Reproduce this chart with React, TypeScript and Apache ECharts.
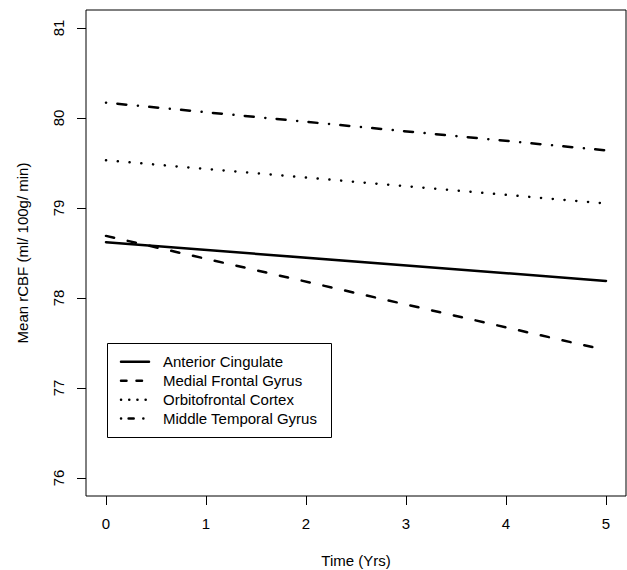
import React, { useEffect, useRef } from "react";
import * as echarts from "echarts";

const years = [0, 5];
const seriesNames = [
  "Anterior Cingulate",
  "Medial Frontal Gyrus",
  "Orbitofrontal Cortex",
  "Middle Temporal Gyrus",
];
const anteriorCingulate = [78.62, 78.19];
const medialFrontalGyrus = [78.69, 77.42];
const orbitofrontalCortex = [79.53, 79.05];
const middleTemporalGyrus = [80.17, 79.64];
const xTicks = [0, 1, 2, 3, 4, 5];
const yTicks = [76, 77, 78, 79, 80, 81];

const FONT = "'Liberation Sans', Arial, Helvetica, sans-serif";

export default function App() {
  const ref = useRef<HTMLDivElement>(null);
  useEffect(() => {
    if (!ref.current) return;
    const chart = echarts.init(ref.current, undefined, { renderer: "svg" });
    const values = [anteriorCingulate, medialFrontalGyrus, orbitofrontalCortex, middleTemporalGyrus];
    const plotDash: any[] = ["solid", [8.3, 14], [0.1, 11.7], [0.1, 11.3, 9, 11.6]];
    const legendDash: any[] = [null, [5.5, 10], [0.1, 8.1], [0.1, 7.5, 5.1, 9.6]];
    const legendEnds = [[121, 149], [121, 149], [121, 146], [121, 144]];
    const rowY = [361.7, 380.7, 399.7, 418.5];

    const legendEls: any[] = [
      {
        type: "rect",
        shape: { x: 107.5, y: 343.5, width: 224, height: 94 },
        style: { fill: "#fff", stroke: "#000", lineWidth: 1 },
        z: 100,
      },
    ];
    seriesNames.forEach((n, i) => {
      legendEls.push({
        type: "line",
        shape: { x1: legendEnds[i][0], y1: rowY[i], x2: legendEnds[i][1], y2: rowY[i] },
        style: {
          stroke: "#000",
          lineWidth: 2.5,
          lineCap: "round",
          lineDash: legendDash[i] || undefined,
        },
        z: 101,
      });
      legendEls.push({
        type: "text",
        x: 163,
        y: rowY[i],
        style: {
          text: n,
          fill: "#000",
          font: `15px ${FONT}`,
          textVerticalAlign: "middle",
          verticalAlign: "middle",
        },
        z: 101,
      });
    });

    chart.setOption({
      animation: false,
      backgroundColor: "#fff",
      grid: {
        left: 86,
        right: 1,
        top: 10,
        bottom: 74,
        show: true,
        borderColor: "#000",
        borderWidth: 1,
        backgroundColor: "transparent",
        containLabel: false,
        outerBoundsMode: "none",
      },
      xAxis: {
        type: "value",
        min: -0.2,
        max: 5.2,
        name: "Time (Yrs)",
        nameLocation: "middle",
        nameGap: 57,
        nameTextStyle: { color: "#000", fontSize: 15, fontFamily: FONT },
        axisLine: { show: false, onZero: false },
        splitLine: { show: false },
        axisTick: {
          show: true,
          inside: false,
          length: 9,
          customValues: xTicks,
          lineStyle: { color: "#000", width: 1 },
        },
        axisLabel: {
          customValues: xTicks,
          margin: 20,
          color: "#000",
          fontSize: 15,
          fontFamily: FONT,
        },
      },
      yAxis: {
        type: "value",
        min: 75.8,
        max: 81.2,
        name: "Mean rCBF (ml/ 100g/ min)",
        nameLocation: "middle",
        nameGap: 56,
        nameRotate: 90,
        nameTextStyle: { color: "#000", fontSize: 15, fontFamily: FONT },
        axisLine: { show: false, onZero: false },
        splitLine: { show: false },
        axisTick: {
          show: true,
          inside: false,
          length: 9,
          customValues: yTicks,
          lineStyle: { color: "#000", width: 1 },
        },
        axisLabel: {
          customValues: yTicks,
          rotate: 90,
          margin: 20,
          color: "#000",
          fontSize: 15,
          fontFamily: FONT,
        },
      },
      series: seriesNames.map((n, i) => ({
        name: n,
        type: "line",
        data: years.map((x, j) => [x, values[i][j]]),
        showSymbol: false,
        symbol: "none",
        silent: true,
        lineStyle: {
          color: "#000",
          width: 2.5,
          type: plotDash[i],
          cap: "round",
        },
      })),
      graphic: legendEls,
    });
    return () => chart.dispose();
  }, []);
  return (
    <div
      ref={ref}
      style={{ position: "absolute", left: 0, top: 0, width: 627, height: 570 }}
    />
  );
}
